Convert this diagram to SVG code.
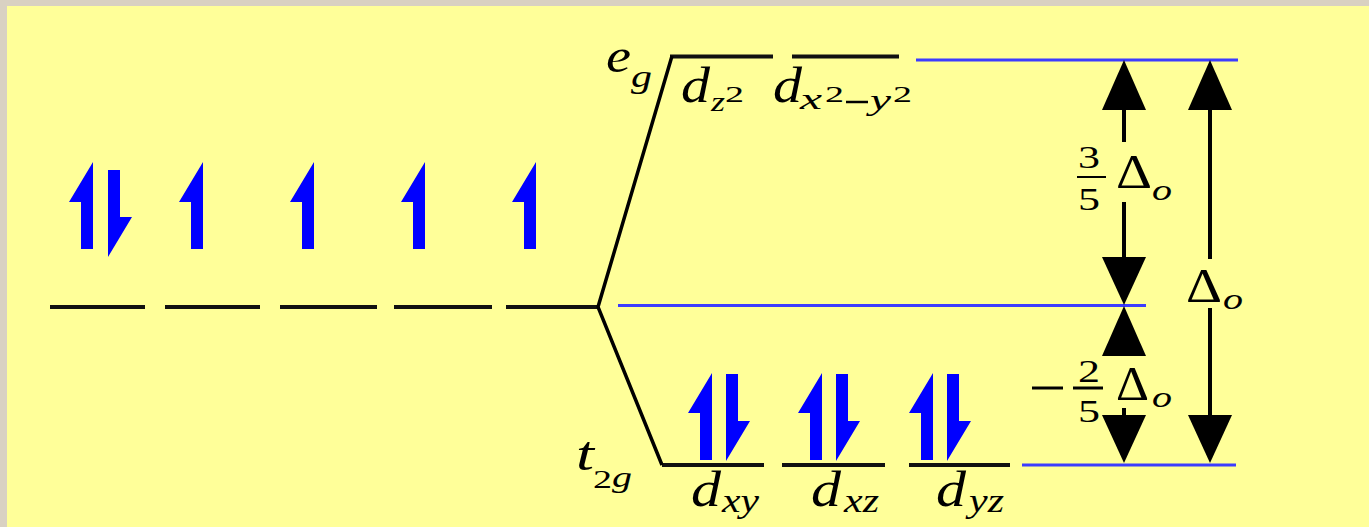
<svg xmlns="http://www.w3.org/2000/svg" xmlns:xlink="http://www.w3.org/1999/xlink" width="1369" height="527" viewBox="0 0 1369 527">
<style>
.lvl{stroke:#111;stroke-width:4;fill:none}
.ref{stroke:#3c3cff;stroke-width:3;fill:none}
.split{stroke:#000;stroke-width:3.5;fill:none}
.stem{stroke:#000;stroke-width:4;fill:none}
.spin{fill:#0000ff}
.it{font-family:"Liberation Serif",serif;font-style:italic;fill:#000}
.rm{font-family:"Liberation Serif",serif;fill:#000}
</style>
<defs>
<path id="up" d="M0,0 L-24,40 L-12,40 L-12,87 L0,87 Z"/>
<path id="dn" d="M0,0 L12,0 L12,47 L24,47 L0,87 Z"/>
<path id="hu" d="M0,0 L22,50 L-22,50 Z"/>
<path id="hd" d="M0,0 L22,-48 L-22,-48 Z"/>
</defs>
<rect x="0" y="0" width="1369" height="527" fill="#d9d1c2"/>
<rect x="7" y="6" width="1362" height="521" fill="#ffff99"/>

<g id="free-ion-levels">
<line class="lvl" x1="50" y1="307" x2="145" y2="307"/>
<line class="lvl" x1="165" y1="307" x2="260" y2="307"/>
<line class="lvl" x1="280" y1="307" x2="377" y2="307"/>
<line class="lvl" x1="394" y1="307" x2="492" y2="307"/>
<line class="lvl" x1="506" y1="307" x2="598" y2="307"/>
<g class="spin">
<use xlink:href="#up" x="93" y="162"/>
<use xlink:href="#dn" x="108" y="170"/>
<use xlink:href="#up" x="203" y="162"/>
<use xlink:href="#up" x="314" y="162"/>
<use xlink:href="#up" x="425" y="162"/>
<use xlink:href="#up" x="536" y="162"/>
</g>
</g>

<g id="eg">
<line class="lvl" x1="670" y1="56.5" x2="773" y2="56.5" stroke="#333"/>
<line class="lvl" x1="792" y1="56.5" x2="899" y2="56.5" stroke="#333"/>
<text class="it" font-size="48" x="606" y="72" textLength="25" lengthAdjust="spacingAndGlyphs">e</text>
<text class="it" font-size="32" x="631" y="87" textLength="21" lengthAdjust="spacingAndGlyphs">g</text>
<text class="it" font-size="50" x="681" y="102" textLength="29" lengthAdjust="spacingAndGlyphs">d</text>
<text class="it" font-size="28" x="711" y="111" textLength="14" lengthAdjust="spacingAndGlyphs">z</text>
<text class="rm" font-size="24" x="725" y="102" textLength="19" lengthAdjust="spacingAndGlyphs">2</text>
<text class="it" font-size="50" x="773" y="102" textLength="29" lengthAdjust="spacingAndGlyphs">d</text>
<text class="it" font-size="30" x="800" y="109" textLength="22" lengthAdjust="spacingAndGlyphs">x</text>
<text class="rm" font-size="24" x="825" y="102" textLength="19" lengthAdjust="spacingAndGlyphs">2</text>
<line x1="846" y1="102" x2="868" y2="102" stroke="#000" stroke-width="2.5"/>
<text class="it" font-size="30" x="870" y="110" textLength="21" lengthAdjust="spacingAndGlyphs">y</text>
<text class="rm" font-size="24" x="893" y="102" textLength="19" lengthAdjust="spacingAndGlyphs">2</text>
</g>

<g id="t2g">
<line class="lvl" x1="662" y1="465" x2="764" y2="465"/>
<line class="lvl" x1="782" y1="465" x2="885" y2="465"/>
<line class="lvl" x1="909" y1="465" x2="1010" y2="465"/>
<g class="spin">
<use xlink:href="#up" x="712" y="373"/>
<use xlink:href="#dn" x="726" y="374"/>
<use xlink:href="#up" x="822" y="373"/>
<use xlink:href="#dn" x="836" y="374"/>
<use xlink:href="#up" x="933" y="373"/>
<use xlink:href="#dn" x="947" y="374"/>
</g>
<text class="it" font-size="48" x="576" y="470" textLength="18" lengthAdjust="spacingAndGlyphs">t</text>
<text class="rm" font-size="26" x="593" y="488" textLength="19" lengthAdjust="spacingAndGlyphs">2</text>
<text class="it" font-size="30" x="612" y="487" textLength="20" lengthAdjust="spacingAndGlyphs">g</text>
<text class="it" font-size="50" x="691" y="506" textLength="30" lengthAdjust="spacingAndGlyphs">d</text>
<text class="it" font-size="34" x="722" y="512" textLength="37" lengthAdjust="spacingAndGlyphs">xy</text>
<text class="it" font-size="50" x="811" y="506" textLength="30" lengthAdjust="spacingAndGlyphs">d</text>
<text class="it" font-size="34" x="844" y="512" textLength="35" lengthAdjust="spacingAndGlyphs">xz</text>
<text class="it" font-size="50" x="936" y="506" textLength="30" lengthAdjust="spacingAndGlyphs">d</text>
<text class="it" font-size="34" x="969" y="512" textLength="35" lengthAdjust="spacingAndGlyphs">yz</text>
</g>

<g id="connectors">
<polyline class="split" points="672,56 598,307 662,465"/>
<line class="ref" x1="916" y1="60" x2="1238" y2="60"/>
<line class="ref" x1="618" y1="305.5" x2="1146" y2="305.5"/>
<line class="ref" x1="1022" y1="465" x2="1236" y2="465"/>
</g>

<g id="energy-arrows">
<line class="stem" x1="1124" y1="108" x2="1124" y2="142"/>
<line class="stem" x1="1124" y1="202" x2="1124" y2="259"/>
<line class="stem" x1="1124" y1="350" x2="1124" y2="356"/>
<line class="stem" x1="1124" y1="408" x2="1124" y2="417"/>
<use xlink:href="#hu" x="1124" y="60"/>
<use xlink:href="#hd" x="1124" y="305"/>
<use xlink:href="#hu" x="1124" y="306"/>
<use xlink:href="#hd" x="1124" y="463"/>
<line class="stem" x1="1210" y1="108" x2="1210" y2="259"/>
<line class="stem" x1="1210" y1="308" x2="1210" y2="418"/>
<use xlink:href="#hu" x="1210" y="60"/>
<use xlink:href="#hd" x="1210" y="463"/>
</g>

<g id="labels">
<text class="rm" font-size="31" x="1078" y="168" textLength="22" lengthAdjust="spacingAndGlyphs">3</text>
<line x1="1077" y1="177" x2="1106" y2="177" stroke="#000" stroke-width="2"/>
<text class="rm" font-size="31" x="1078" y="210" textLength="22" lengthAdjust="spacingAndGlyphs">5</text>
<text class="rm" font-size="48" x="1116" y="188" textLength="36" lengthAdjust="spacingAndGlyphs">Δ</text>
<text class="it" font-size="30" x="1152" y="200" textLength="20" lengthAdjust="spacingAndGlyphs">o</text>

<line x1="1032" y1="388" x2="1063" y2="388" stroke="#000" stroke-width="3"/>
<line x1="1073" y1="388" x2="1103" y2="388" stroke="#000" stroke-width="3"/>
<text class="rm" font-size="31" x="1078" y="382" textLength="22" lengthAdjust="spacingAndGlyphs">2</text>
<text class="rm" font-size="31" x="1078" y="422" textLength="22" lengthAdjust="spacingAndGlyphs">5</text>
<text class="rm" font-size="48" x="1116" y="400" textLength="33" lengthAdjust="spacingAndGlyphs">Δ</text>
<text class="it" font-size="30" x="1152" y="407" textLength="20" lengthAdjust="spacingAndGlyphs">o</text>

<text class="rm" font-size="48" x="1186" y="302" textLength="36" lengthAdjust="spacingAndGlyphs">Δ</text>
<text class="it" font-size="30" x="1223" y="309" textLength="20" lengthAdjust="spacingAndGlyphs">o</text>
</g>
</svg>
